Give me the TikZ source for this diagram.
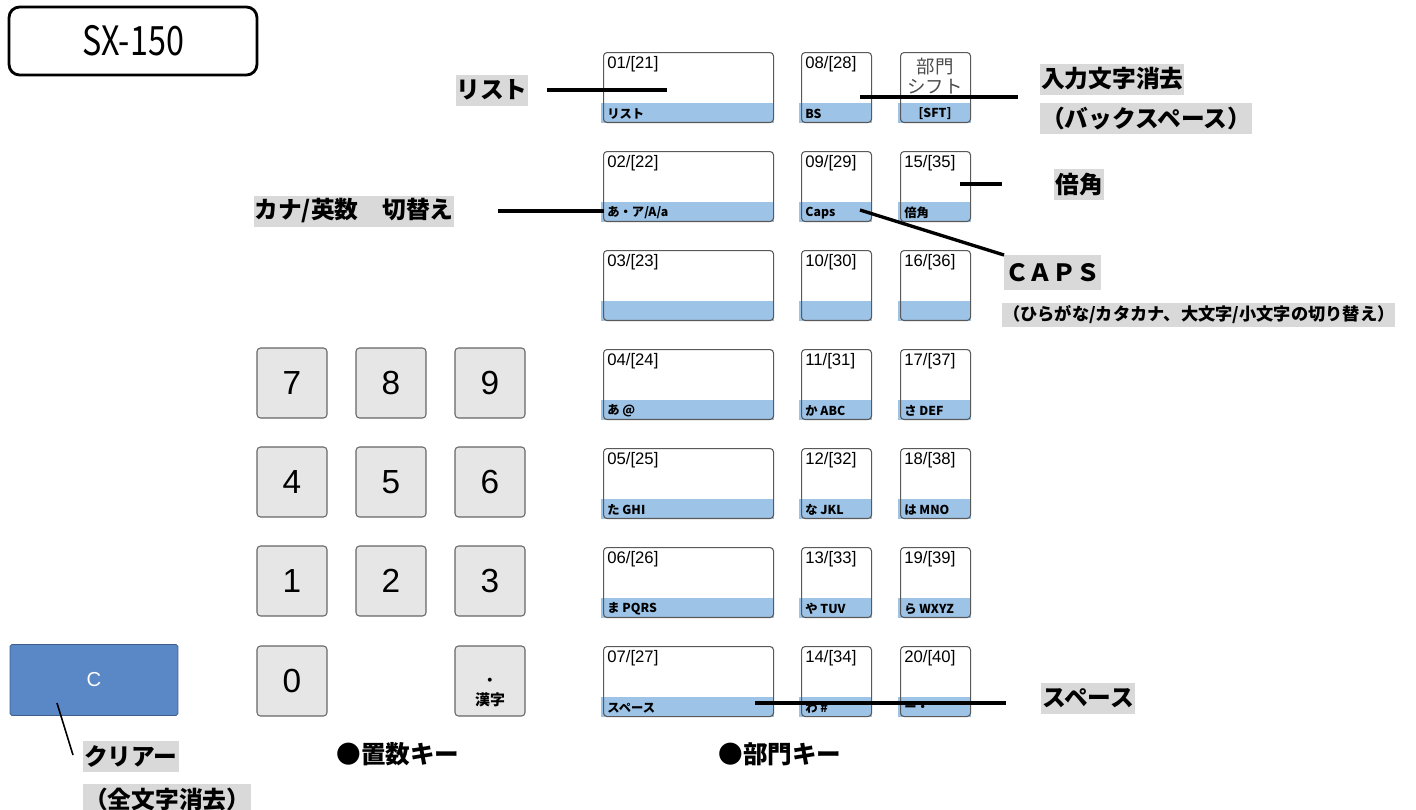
\documentclass[tikz,border=0pt]{standalone}
\usepackage{fontspec}
\setmainfont{Liberation Sans}
\newfontfamily\jp{Noto Sans CJK JP}
\usetikzlibrary{positioning}
\definecolor{keyblue}{RGB}{157,195,230}
\definecolor{clearblue}{RGB}{90,136,199}
\definecolor{labelgray}{RGB}{217,217,217}
\definecolor{padgray}{RGB}{230,230,230}
\tikzstyle{callout} = [line width=1.9pt, black]

% department key: name, left x, top y, width, number, band text
\newcommand{\bumonkey}[6]{%
  \fill[keyblue] (#2-2,#3+51) rectangle (#2+#4+1,#3+71);
  \node[bkey, minimum width=#4*0.02cm, anchor=north west] (#1) at (#2,#3) {};
  \node[keynum, anchor=west] (#1num) at (#2+4,#3+12) {#5};
  \node[keytag, anchor=west] (#1tag) at (#2+4,#3+62) {#6};
}

\begin{document}
\begin{tikzpicture}[x=0.02cm, y=-0.02cm,
    bkey/.style={draw=black!65, line width=0.6pt, rounded corners=2pt, minimum height=1.4cm, inner sep=0pt},
    keynum/.style={font=\fontsize{9.5}{11}\selectfont, inner sep=0pt},
    keytag/.style={font=\jp\bfseries\fontsize{7}{8}\selectfont, inner sep=0pt},
    numkey/.style={draw=black!60, fill=padgray, line width=0.6pt, rounded corners=2pt, minimum size=1.4cm, inner sep=0pt, font=\fontsize{19}{22}\selectfont},
    lbl/.style={fill=labelgray, inner xsep=0.5pt, inner ysep=0pt, minimum height=0.62cm, font=\jp\bfseries\fontsize{13.5}{16}\selectfont},
    heading/.style={font=\jp\bfseries\fontsize{14}{16}\selectfont, inner sep=0pt}]
  \useasboundingbox (0,0) rectangle (1416,809);

  % model name
  \node[draw, line width=1.6pt, rounded corners=6pt, minimum width=4.96cm, minimum height=1.36cm, font=\jp\fontsize{23}{26}\selectfont] (model) at (133,41) {\scalebox{0.8}[1]{SX-150}};

  % number pad
  \node[numkey] (n7) at (292,383) {7};
  \node[numkey] (n8) at (391,383) {8};
  \node[numkey] (n9) at (490,383) {9};
  \node[numkey] (n4) at (292,482) {4};
  \node[numkey] (n5) at (391,482) {5};
  \node[numkey] (n6) at (490,482) {6};
  \node[numkey] (n1) at (292,581) {1};
  \node[numkey] (n2) at (391,581) {2};
  \node[numkey] (n3) at (490,581) {3};
  \node[numkey] (n0) at (292,681) {0};
  \node[numkey] (nkanji) at (490,681) {};
  \node[inner sep=0pt, font=\jp\bfseries\fontsize{8}{9}\selectfont] (nkdot) at (490,682) {・};
  \node[inner sep=0pt, font=\jp\bfseries\fontsize{8.5}{10}\selectfont] (nktext) at (490,700) {漢字};

  % clear key
  \node[draw=clearblue!70!black, fill=clearblue, minimum width=3.36cm, minimum height=1.42cm, rounded corners=1pt, text=white, font=\fontsize{11.5}{13}\selectfont] (clr) at (94,680) {C};

  % department keys
  \bumonkey{k01}{603}{52}{170}{01/[21]}{リスト}
  \bumonkey{k02}{603}{151}{170}{02/[22]}{あ・ア/A/a}
  \bumonkey{k03}{603}{250}{170}{03/[23]}{}
  \bumonkey{k04}{603}{349}{170}{04/[24]}{あ @}
  \bumonkey{k05}{603}{448}{170}{05/[25]}{た GHI}
  \bumonkey{k06}{603}{547}{170}{06/[26]}{ま PQRS}
  \bumonkey{k07}{603}{646}{170}{07/[27]}{スペース}
  \bumonkey{k08}{801}{52}{70}{08/[28]}{BS}
  \bumonkey{k09}{801}{151}{70}{09/[29]}{Caps}
  \bumonkey{k10}{801}{250}{70}{10/[30]}{}
  \bumonkey{k11}{801}{349}{70}{11/[31]}{か ABC}
  \bumonkey{k12}{801}{448}{70}{12/[32]}{な JKL}
  \bumonkey{k13}{801}{547}{70}{13/[33]}{や TUV}
  \bumonkey{k14}{801}{646}{70}{14/[34]}{わ \#}
  \bumonkey{kshift}{900}{52}{70}{}{}
  \bumonkey{k15}{900}{151}{70}{15/[35]}{倍角}
  \bumonkey{k16}{900}{250}{70}{16/[36]}{}
  \bumonkey{k17}{900}{349}{70}{17/[37]}{さ DEF}
  \bumonkey{k18}{900}{448}{70}{18/[38]}{は MNO}
  \bumonkey{k19}{900}{547}{70}{19/[39]}{ら WXYZ}
  \bumonkey{k20}{900}{646}{70}{20/[40]}{ー・}
  \node[inner sep=0pt, text=black!70, font=\jp\fontsize{10.5}{12}\selectfont] (shift1) at (935,67) {部門};
  \node[inner sep=0pt, text=black!70, font=\jp\fontsize{10.5}{12}\selectfont] (shift2) at (935,87) {シフト};
  \node[keytag] (shifttag) at (935,114) {[SFT]};

  % labels
  \node[lbl] (lblList) at (492,90) {リスト};
  \node[lbl] (lblKana) at (354,211) {カナ/英数　切替え};
  \node[lbl, anchor=west] (lblBS) at (1040,79) {入力文字消去};
  \node[lbl, below=0.16cm of lblBS.south west, anchor=north west] (lblBS2) {（バックスペース）};
  \node[lbl] (lblBai) at (1079,184) {倍角};
  \node[lbl, anchor=north west, minimum height=0.7cm] (lblCaps) at (1004,255) {ＣＡＰＳ};
  \node[lbl, anchor=west, font=\jp\bfseries\fontsize{9.8}{12}\selectfont, minimum height=0.48cm] (lblCapsNote) at (1002,315) {（ひらがな/カタカナ、大文字/小文字の切り替え）};
  \node[lbl] (lblSpace) at (1088,698) {スペース};
  \node[lbl, anchor=north west] (lblClear) at (83,741) {クリアー};
  \node[lbl, below=0.22cm of lblClear.south west, anchor=north west] (lblClear2) {（全文字消去）};
  \node[heading] (hdPad) at (398,754) {●置数キー};
  \node[heading] (hdDept) at (780,754) {●部門キー};

  % callout lines
  \coordinate (listTip) at (667,90);
  \coordinate (kanaTip) at (604,211);
  \coordinate (bsTip) at (860,97);
  \coordinate (baiTip) at (960,184);
  \coordinate (capsTip) at (860,210);
  \coordinate (spTip) at (755,703);
  \coordinate (clrTip) at (57,703);
  \coordinate (clrEnd) at (73,755);
  \draw[callout] ([xshift=0.36cm]lblList.east) -- (listTip);
  \draw[callout] ([xshift=0.86cm]lblKana.east) -- (kanaTip);
  \draw[callout, shorten >=0.44cm] (bsTip) -- (bsTip -| lblBS.west);
  \draw[callout, shorten >=1.04cm] (baiTip) -- (baiTip -| lblBai.west);
  \draw[callout] (capsTip) -- (lblCaps.north west);
  \draw[callout, shorten >=0.7cm] (spTip) -- (spTip -| lblSpace.west);
  \draw[line width=0.9pt] (clrTip) -- (clrEnd);
\end{tikzpicture}
\end{document}
